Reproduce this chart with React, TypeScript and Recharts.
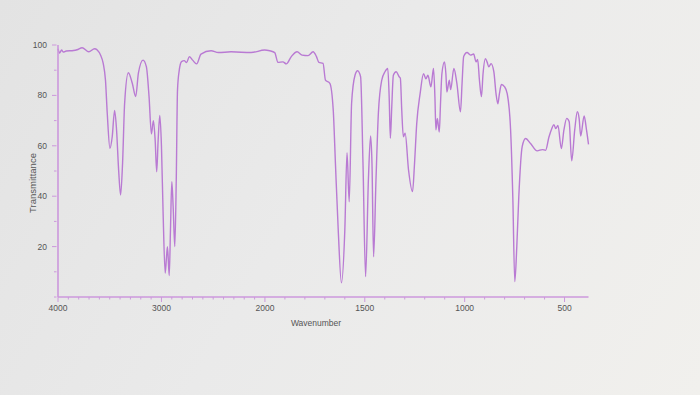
import React from "react";
import { LineChart, Line, XAxis, YAxis, Label } from "recharts";

// Wavenumber (cm-1) readings, high to low
const wavenumbers = [
  4000, 3985, 3965, 3950, 3920, 3850, 3816, 3767, 3702, 3647, 3621, 3589, 3563, 3541, 3524,
  3498, 3476, 3453, 3434, 3414, 3395, 3376, 3356, 3320, 3282, 3249, 3223, 3178, 3146, 3120,
  3097, 3078, 3061, 3046, 3032, 3016, 3000, 2984, 2964, 2951, 2942, 2925, 2913, 2900, 2887,
  2871, 2857, 2845, 2828, 2806, 2780, 2757, 2731, 2699, 2660, 2618, 2521, 2450, 2327, 2133,
  2003, 1976, 1951, 1935, 1910, 1893, 1868, 1839, 1814, 1784, 1759, 1742, 1730, 1709, 1697,
  1675, 1658, 1647, 1633, 1617, 1600, 1589, 1578, 1566, 1549, 1536, 1521, 1509, 1496, 1482,
  1471, 1464, 1456, 1444, 1432, 1415, 1399, 1385, 1378, 1372, 1365, 1357, 1343, 1328, 1322,
  1315, 1307, 1298, 1281, 1261, 1251, 1240, 1223, 1206, 1194, 1184, 1169, 1156, 1149, 1144,
  1137, 1127, 1121, 1114, 1101, 1094, 1089, 1077, 1070, 1054, 1039, 1021, 1013, 1005, 988,
  971, 955, 943, 935, 926, 916, 908, 896, 888, 879, 868, 854, 843, 834, 826,
  816, 800, 787, 770, 759, 749, 739, 729, 712, 695, 670, 637, 611, 595, 578,
  564, 553, 544, 533, 516, 503, 489, 477, 464, 449, 436, 427, 419, 402, 390,
  380,
];

// Transmittance (%) readings
const transmittance = [
  98.5, 96.8, 98, 97.2, 97.6, 97.8, 98.1, 98.9, 97.3, 98.5, 98, 96, 92.7, 86, 72.9,
  59, 63.6, 74, 66.3, 50.4, 40.5, 53, 76.9, 89, 84.8, 79.5, 88.8, 94, 91.4, 79.5,
  64.7, 70, 62.3, 49.7, 62.3, 72, 59.7, 33.2, 9.5, 16, 20, 8.5, 26.6, 45.8, 35.8,
  20, 46.4, 82.1, 90, 93.4, 93.8, 93, 95.4, 94, 92.5, 96.4, 97.7, 97, 97.3, 97,
  98, 97.7, 97, 93.1, 93.3, 92.5, 95.4, 97.3, 96, 95.8, 97.3, 95.4, 93.1, 92.7, 86.1,
  84.8, 74.2, 53, 26.6, 5.6, 26.6, 57.3, 37.8, 77, 88, 89.8, 87.4, 53, 8.1, 46.4,
  63.9, 53, 16, 46.4, 72.9, 86.1, 89.4, 90.7, 79.5, 63, 75.5, 88, 89.4, 87.4, 86.8,
  74.2, 63.6, 65, 50.4, 41.8, 53, 68.8, 80.7, 88.6, 86.6, 88, 83.4, 90.7, 79.5, 66.3,
  70.9, 65.5, 76.7, 88.6, 93.3, 88.6, 81.3, 86, 82.3, 90.7, 84.8, 73.5, 84.8, 95.4, 97,
  96, 96.4, 93.3, 94.3, 86, 79.5, 88.6, 94.6, 93.3, 91.3, 92.6, 89.4, 80.7, 76.7, 80.7,
  84.3, 83.4, 80.7, 66.3, 39.8, 6.1, 20, 39.8, 59.7, 62.9, 60.9, 58, 58.5, 58.2, 63.5,
  66.8, 68.4, 66.8, 68.1, 58.9, 66.3, 70.9, 69.6, 54, 66.3, 73.5, 70.9, 63.9, 71.8, 66.3,
  60.6,
];

const xTickLabels = [4000, 3000, 2000, 1500, 1000, 500];
const xMinorTicks = [
  4000, 3900, 3800, 3700, 3600, 3500, 3400, 3300, 3200, 3100, 3000, 2900, 2800, 2700, 2600,
  2500, 2400, 2300, 2200, 2100, 2000, 1900, 1800, 1700, 1600, 1500, 1400, 1300, 1200, 1100,
  1000, 900, 800, 700, 600, 500,
];
const yTickLabels = [20, 40, 60, 80, 100];
const yMinorTicks = [0, 10, 20, 30, 40, 50, 60, 70, 80, 90, 100];

// The instrument axis is compressed above 2000 cm-1
const UPPER_FACTOR = 0.518;
const toPos = (wn: number) =>
  wn >= 2000 ? (4000 - wn) * UPPER_FACTOR : 2000 * UPPER_FACTOR + (2000 - wn);
const fromPos = (p: number) => {
  const br = 2000 * UPPER_FACTOR;
  return p <= br ? Math.round(4000 - p / UPPER_FACTOR) : Math.round(2000 - (p - br));
};

const data = wavenumbers.map((wn, i) => ({ p: toPos(wn), t: transmittance[i] }));

const AXIS_COLOR = "#cc98dc";
const LINE_COLOR = "#b97ad3";
const TEXT_COLOR = "#555555";
const FONT = "'Liberation Sans', Arial, sans-serif";

const XTick = (props: any) => {
  const { x, y, payload } = props;
  const wn = fromPos(payload.value);
  const major = xTickLabels.includes(wn);
  return (
    <g>
      <line x1={x} x2={x} y1={y} y2={y + (major ? 5 : 2.5)} stroke={AXIS_COLOR} strokeWidth={1} />
      {major && (
        <text x={x} y={y + 14} textAnchor="middle" fontSize={8.5} fill={TEXT_COLOR} fontFamily={FONT}>
          {wn}
        </text>
      )}
    </g>
  );
};

const YTick = (props: any) => {
  const { x, y, payload } = props;
  const v = payload.value;
  const major = yTickLabels.includes(v);
  return (
    <g>
      <line x1={x - 1.5} x2={x - (major ? 6 : 4)} y1={y} y2={y} stroke={AXIS_COLOR} strokeWidth={1} />
      {major && (
        <text x={x - 11} y={y + 3} textAnchor="end" fontSize={8.5} fill={TEXT_COLOR} fontFamily={FONT}>
          {v}
        </text>
      )}
    </g>
  );
};

export default function App() {
  return (
    <div
      style={{
        position: "fixed",
        left: 0,
        top: 0,
        width: 700,
        height: 395,
        background: "linear-gradient(120deg, #e3e3e3 0%, #eaeaea 45%, #f1f0ed 100%)",
      }}
    >
      <LineChart
        width={700}
        height={395}
        data={data}
        margin={{ top: 45, right: 111.5, bottom: 68, left: 0 }}
      >
        <XAxis
          dataKey="p"
          type="number"
          domain={[0, toPos(380)]}
          ticks={xMinorTicks.map(toPos)}
          interval={0}
          tickSize={0}
          tickMargin={0}
          tick={<XTick />}
          height={30}
          stroke={AXIS_COLOR}
          strokeWidth={1.6}
        >
          <Label
            content={() => (
              <text x={316} y={326} textAnchor="middle" fontSize={8.5} fill={TEXT_COLOR} fontFamily={FONT}>
                Wavenumber
              </text>
            )}
          />
        </XAxis>
        <YAxis
          type="number"
          domain={[0, 100]}
          ticks={yMinorTicks}
          interval={0}
          tickSize={0}
          tickMargin={0}
          tick={<YTick />}
          width={58}
          stroke={AXIS_COLOR}
          strokeWidth={1.6}
        >
          <Label
            content={() => (
              <text
                x={36}
                y={183}
                transform="rotate(-90 36 183)"
                textAnchor="middle"
                fontSize={9.5}
                fill={TEXT_COLOR}
                fontFamily={FONT}
              >
                Transmittance
              </text>
            )}
          />
        </YAxis>
        <Line
          type="monotone"
          dataKey="t"
          stroke={LINE_COLOR}
          strokeWidth={1.4}
          dot={false}
          isAnimationActive={false}
        />
      </LineChart>
    </div>
  );
}
